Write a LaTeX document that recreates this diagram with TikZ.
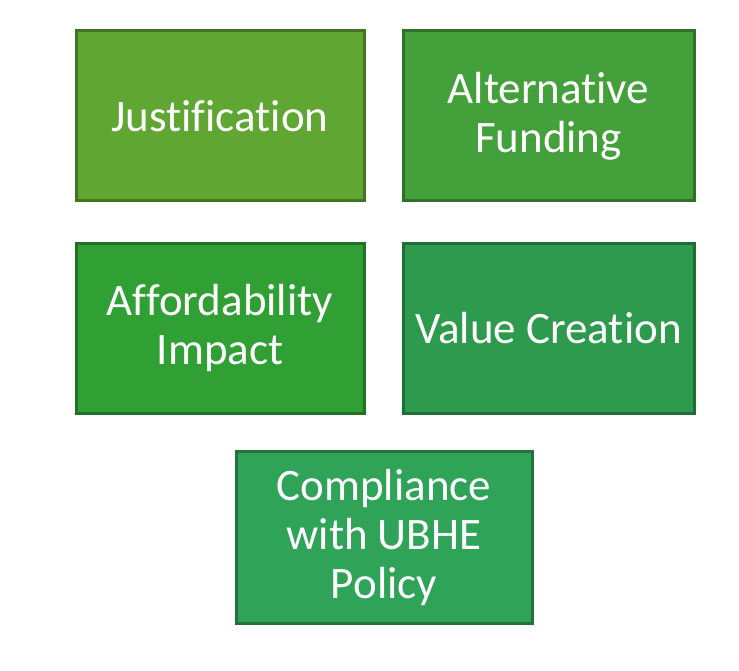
\documentclass[tikz,border=0pt]{standalone}
\usepackage{fontspec}
\setmainfont[Ligatures=NoCommon]{Carlito}
\begin{document}
\begin{tikzpicture}[x=1pt,y=-1pt,
  tile/.style={draw=#1!70!black, line width=3pt, fill=#1, text=white,
    inner sep=0pt, align=center,
    font=\fontsize{45}{49}\selectfont},
]
\useasboundingbox (0,0) rectangle (739,671);
\definecolor{cJ}{HTML}{5FA632}
\definecolor{cA}{HTML}{44A03A}
\definecolor{cF}{HTML}{30A035}
\definecolor{cV}{HTML}{2D9A4D}
\definecolor{cC}{HTML}{2FA357}
\node[tile=cJ, minimum width=288pt, minimum height=170pt] (just) at (220,116) {Justification};
\node[tile=cA, minimum width=291pt, minimum height=170pt] (alt) at (548.5,116) {Alternative\\Funding};
\node[tile=cF, minimum width=288pt, minimum height=169pt] (aff) at (220,328.5) {Affordability\\Impact};
\node[tile=cV, minimum width=291pt, minimum height=169pt] (val) at (548.5,328.5) {Value Creation};
\node[tile=cC, minimum width=296pt, minimum height=172pt] (comp) at (384,537) {Compliance\\with UBHE\\Policy};
\end{tikzpicture}
\end{document}
